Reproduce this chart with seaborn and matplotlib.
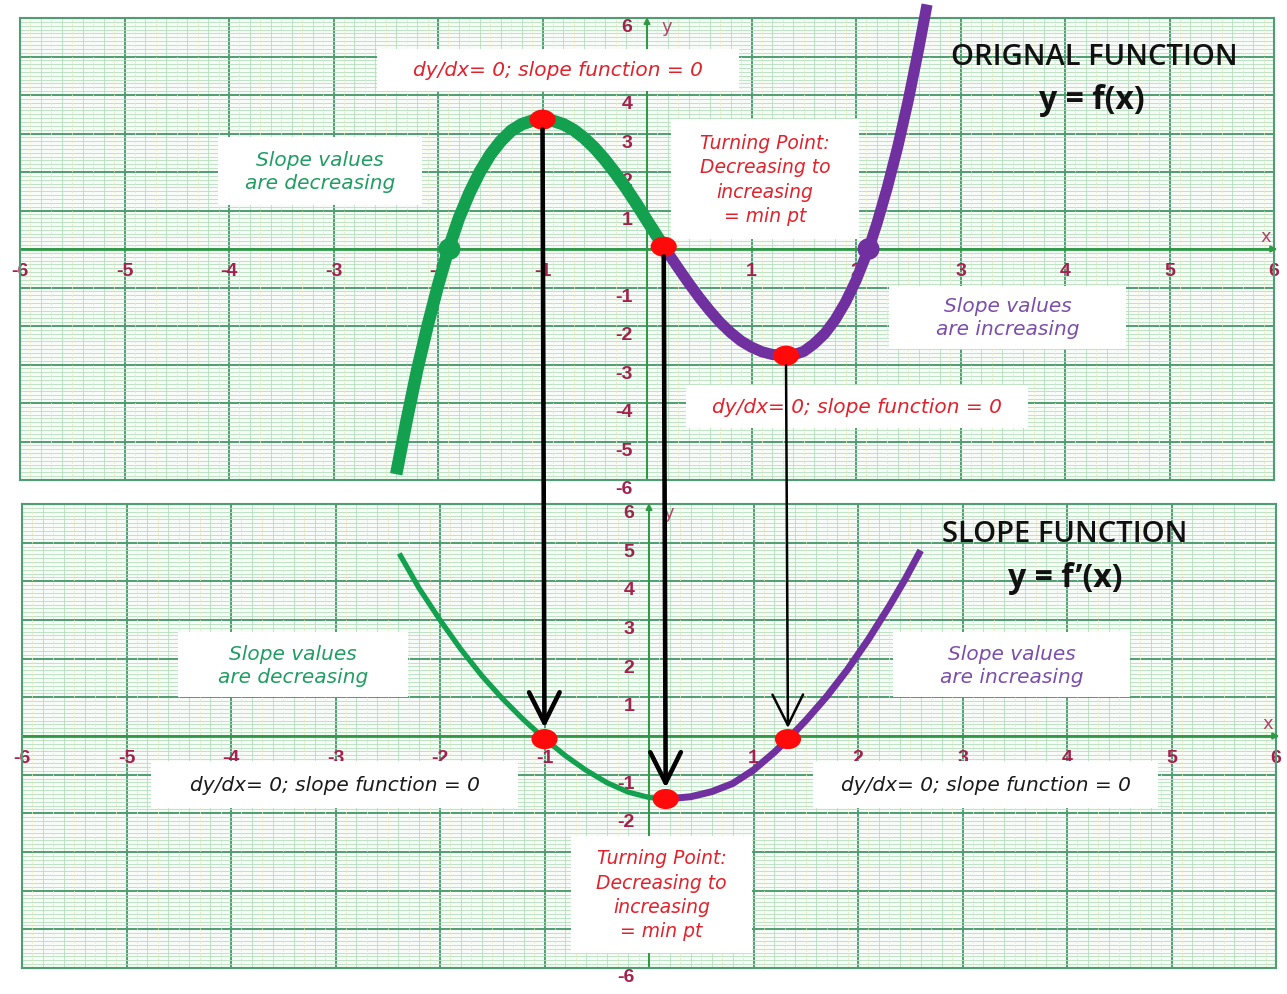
import numpy as np
import matplotlib.pyplot as plt
import seaborn as sns
from matplotlib.patches import Ellipse, Rectangle
from matplotlib.ticker import MultipleLocator

sns.set_style('white')
plt.rcParams['font.family'] = ['DejaVu Sans']

# original function y = f(x)
f_green_x = [-2.4, -2.3, -2.2, -2.1, -2.0, -1.9, -1.8, -1.7, -1.6, -1.5, -1.4, -1.3, -1.2, -1.1,
             -1.0, -0.9, -0.8, -0.7, -0.6, -0.5, -0.4, -0.3, -0.2, -0.1, 0.0, 0.08, 0.16]
f_green_y = [-5.85, -4.45, -3.15, -2.0, -0.95, 0.0, 0.8, 1.45, 2.0, 2.45, 2.8, 3.07, 3.24, 3.33,
             3.36, 3.33, 3.24, 3.09, 2.88, 2.62, 2.31, 1.96, 1.58, 1.17, 0.74, 0.4, 0.06]
f_purple_x = [0.16, 0.2, 0.3, 0.4, 0.5, 0.6, 0.7, 0.8, 0.9, 1.0, 1.1, 1.2, 1.33, 1.4, 1.5,
              1.6, 1.7, 1.8, 1.9, 2.0, 2.12, 2.2, 2.3, 2.4, 2.5, 2.6, 2.68]
f_purple_y = [0.06, -0.1, -0.5, -0.89, -1.26, -1.6, -1.91, -2.17, -2.39, -2.55, -2.67, -2.74, -2.77,
              -2.75, -2.66, -2.46, -2.2, -1.84, -1.38, -0.82, 0.0, 0.66, 1.6, 2.66, 3.86, 5.2, 6.35]

# slope function y = f'(x)
d_green_x = [-2.39, -2.2, -2.0, -1.8, -1.6, -1.4, -1.2, -1.0, -0.8, -0.6, -0.4, -0.2, 0.0, 0.16]
d_green_y = [4.72, 3.82, 3.0, 2.24, 1.56, 0.96, 0.42, -0.07, -0.51, -0.89, -1.21, -1.45, -1.59, -1.63]
d_purple_x = [0.16, 0.4, 0.6, 0.8, 1.0, 1.2, 1.33, 1.5, 1.7, 1.9, 2.1, 2.3, 2.45, 2.6]
d_purple_y = [-1.63, -1.57, -1.44, -1.23, -0.88, -0.42, -0.08, 0.40, 1.02, 1.72, 2.5, 3.36, 4.05, 4.8]

# marked points
turn_x = [-1.0, 0.16, 1.33]
turn_f = [3.36, 0.06, -2.77]
turn_d = [-0.08, -1.63, -0.08]
root_green = (-1.89, 0.0)
root_purple = (2.12, 0.0)

x_ticks = [-6, -5, -4, -3, -2, -1, 1, 2, 3, 4, 5, 6]
top_y_ticks = [-6, -5, -4, -3, -2, -1, 1, 2, 3, 4, 6]
bot_y_ticks = [-6, -2, -1, 1, 2, 3, 4, 5, 6]

GREEN = '#13a04f'
PURPLE = '#7030a0'
RED = '#ff0a0a'
MAROON = '#a3214e'
TXT_GREEN = '#1f9d62'
TXT_PURPLE = '#7b4fa9'
TXT_RED = '#e0222c'

W, H = 1287, 995
fig = plt.figure(figsize=(W / 100, H / 100), dpi=100)
fig.patch.set_facecolor('white')
ax_top = fig.add_axes([20 / W, 1 - 481 / H, 1254 / W, 462 / H])
ax_bot = fig.add_axes([22 / W, 1 - 969 / H, 1254 / W, 464 / H])


def graph_paper(ax, y_ticks):
    ax.set_xlim(-6, 6)
    ax.set_ylim(-6, 6)
    ax.set_facecolor('#f8fcf9')
    ax.xaxis.set_major_locator(MultipleLocator(1))
    ax.yaxis.set_major_locator(MultipleLocator(1))
    ax.xaxis.set_minor_locator(MultipleLocator(0.2))
    ax.yaxis.set_minor_locator(MultipleLocator(0.1))
    ax.grid(which='minor', color='#b3e0bb', lw=0.6)
    ax.grid(which='major', color='#4f9e72', lw=1.4)
    ax.vlines(np.arange(-5.9, 6, 0.2), -6, 6, colors='#ebe8bd', lw=0.6,
              linestyles=(0, (3, 2)), zorder=0.6)
    ax.tick_params(which='both', length=0, labelbottom=False, labelleft=False)
    for s in ax.spines.values():
        s.set_visible(True)
        s.set_color('#4f9e72')
        s.set_linewidth(1.5)
    ax.axhline(0, color='#2f9a45', lw=2, zorder=1.5)
    ax.axvline(0, color='#2f9a45', lw=1.4, zorder=1.5)
    ax.annotate('', xy=(6.06, 0), xytext=(5.7, 0), annotation_clip=False,
                arrowprops=dict(arrowstyle='-|>', color='#2f9a45', lw=1.5, mutation_scale=9))
    ax.annotate('', xy=(0, 6.1), xytext=(0, 5.5), annotation_clip=False,
                arrowprops=dict(arrowstyle='-|>', color='#2f9a45', lw=1.4, mutation_scale=9))
    for t in x_ticks:
        ax.text(t, -0.33, str(t), color=MAROON, fontsize=14, fontweight='bold',
                family='Liberation Sans', ha='center', va='top', zorder=2)
    for t in y_ticks:
        ax.text(-0.14, t, str(t), color=MAROON, fontsize=14, fontweight='bold',
                family='Liberation Sans', ha='right', va='top', zorder=2)
    ax.text(5.92, 0.1, 'x', color='#b0456b', fontsize=13, ha='center', va='bottom', zorder=2)
    ax.text(0.19, 5.8, 'y', color='#b0456b', fontsize=13, ha='center', va='center', zorder=2)


def note(ax, x, y, w, h, text, color, size=14.5, ls=1.25):
    ax.add_patch(Rectangle((x - w / 2, y - h / 2), w, h, facecolor='white',
                           edgecolor='none', zorder=4))
    ax.text(x, y, text, color=color, fontsize=size, style='italic', ha='center',
            va='center', multialignment='center', linespacing=ls, zorder=5)


def dot(ax, x, y, color, w=0.25, h=0.52):
    ax.add_patch(Ellipse((x, y), w, h, facecolor=color, edgecolor='none', zorder=6))


graph_paper(ax_top, top_y_ticks)
graph_paper(ax_bot, bot_y_ticks)

# curves
line_kw = dict(solid_joinstyle='round', solid_capstyle='butt', zorder=3)
sns.lineplot(x=f_green_x, y=f_green_y, color=GREEN, linewidth=9, ax=ax_top, **line_kw)
sns.lineplot(x=f_purple_x, y=f_purple_y, color=PURPLE, linewidth=8, ax=ax_top, **line_kw)
sns.lineplot(x=d_green_x, y=d_green_y, color=GREEN, linewidth=3.8, ax=ax_bot, **line_kw)
sns.lineplot(x=d_purple_x, y=d_purple_y, color=PURPLE, linewidth=5, ax=ax_bot, **line_kw)
for ax in (ax_top, ax_bot):
    for ln in ax.lines:
        ln.set_clip_on(False)

# dots
dot(ax_top, *root_green, GREEN, 0.21, 0.56)
dot(ax_top, *root_purple, PURPLE, 0.21, 0.56)
for x, yt, yb in zip(turn_x, turn_f, turn_d):
    dot(ax_top, x, yt, RED)
    dot(ax_bot, x, yb, RED)

# arrows from f(x) turning points down to f'(x) zeros
for x, yt, yb, lw in zip(turn_x, turn_f, turn_d, [3.3, 3.3, 1.8]):
    ax_bot.annotate('', xy=(x, yb), xycoords='data', xytext=(x, yt),
                    textcoords=ax_top.transData, zorder=7,
                    arrowprops=dict(arrowstyle='->,head_length=1.1,head_width=0.55',
                                    lw=lw, color='black', mutation_scale=20,
                                    shrinkA=7, shrinkB=8))

# notes on the top panel
note(ax_top, -0.85, 4.65, 3.46, 1.09, 'dy/dx= 0; slope function = 0', TXT_RED)
note(ax_top, -3.13, 2.03, 1.96, 1.77, 'Slope values\nare decreasing', TXT_GREEN)
note(ax_top, 1.13, 1.82, 1.8, 3.12, 'Turning Point:\nDecreasing to\nincreasing\n= min pt',
     TXT_RED, size=13.5, ls=1.35)
note(ax_top, 3.45, -1.77, 2.27, 1.64, 'Slope values\nare increasing', TXT_PURPLE)
note(ax_top, 2.01, -4.08, 3.28, 1.12, 'dy/dx= 0; slope function = 0', TXT_RED)
ax_top.text(4.28, 5.0, 'ORIGNAL FUNCTION', fontsize=21, family='Open Sans', fontweight='semibold',
            color='#111111', ha='center', va='center', zorder=5)
ax_top.text(4.26, 3.88, 'y = f(x)', fontsize=23, family='Open Sans', fontweight='bold',
            color='#111111', ha='center', va='center', zorder=5)

# notes on the bottom panel
note(ax_bot, -3.41, 1.84, 2.2, 1.68, 'Slope values\nare decreasing', TXT_GREEN)
note(ax_bot, 3.47, 1.84, 2.27, 1.68, 'Slope values\nare increasing', TXT_PURPLE)
note(ax_bot, -3.01, -1.26, 3.52, 1.22, 'dy/dx= 0; slope function = 0', '#1a1a1a')
note(ax_bot, 3.22, -1.26, 3.3, 1.22, 'dy/dx= 0; slope function = 0', '#1a1a1a')
note(ax_bot, 0.12, -4.09, 1.74, 3.03, 'Turning Point:\nDecreasing to\nincreasing\n= min pt',
     TXT_RED, size=13.5, ls=1.35)
ax_bot.text(3.98, 5.25, 'SLOPE FUNCTION', fontsize=21, family='Open Sans', fontweight='semibold',
            color='#111111', ha='center', va='center', zorder=5)
ax_bot.text(3.98, 4.1, 'y = f\u2019(x)', fontsize=23, family='Open Sans', fontweight='bold',
            color='#111111', ha='center', va='center', zorder=5)

fig.savefig('out.png', dpi=100)
